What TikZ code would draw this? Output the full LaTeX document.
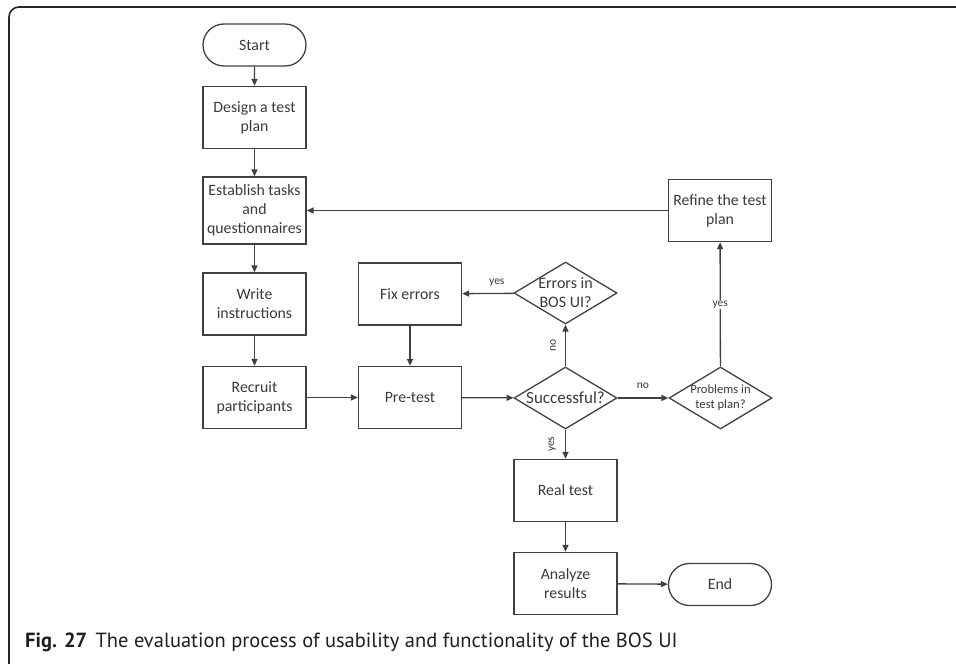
\documentclass[tikz,border=0pt]{standalone}
\usepackage{fontspec}
\setmainfont{Carlito}
\newfontfamily\capfont{PT Sans}
\usetikzlibrary{shapes.geometric,shapes.misc,arrows.meta}

\definecolor{ink}{HTML}{404040}
\definecolor{txt}{HTML}{3A3A3A}

\tikzset{
  flow/.style={draw=ink, line width=1.3pt, text=txt, font=\fontsize{15.8}{19}\selectfont,
    align=center, inner sep=0pt},
  stepbox/.style={flow, rectangle, minimum width=103pt, minimum height=62pt},
  terminal/.style={flow, rounded rectangle, minimum width=103pt, minimum height=42pt},
  decision/.style={flow, diamond, minimum width=103pt, minimum height=62pt},
  dtext/.style={text=txt, align=center, inner sep=0pt},
  conn/.style={draw=ink, line width=1.3pt, -{Triangle[length=7pt,width=6pt]}},
  tag/.style={text=txt, font=\fontsize{11.5}{13}\selectfont, inner sep=1pt},
}

\begin{document}
\begin{tikzpicture}[x=1pt, y=-1pt]
\useasboundingbox (0,0) rectangle (956,664);

% figure frame
\draw[draw=black!85, line width=1.6pt] (9,664) -- (9,17) arc (180:270:10) -- (956,7);

% left column
\node[terminal] (start) at (254.5,45) {Start};
\node[stepbox] (design) at (254.5,117.5) {Design a test\\plan};
\node[stepbox, minimum height=67pt] (tasks) at (254.5,210.5) {Establish tasks\\and\\questionnaires};
\node[stepbox] (write) at (254.5,304) {Write\\instructions};
\node[stepbox] (recruit) at (254.5,397.5) {Recruit\\participants};

% middle column
\node[stepbox] (fix) at (410,294) {Fix errors};
\node[stepbox] (pretest) at (410,397.5) {Pre-test};

% decisions (outline and wording kept separate so long wording may cross the outline)
\node[decision] (success) at (565.5,398) {};
\node[dtext, font=\fontsize{17}{20}\selectfont] (successtxt) at (success.center) {Successful?};
\node[decision] (errors) at (565.5,293) {};
\node[dtext, font=\fontsize{16}{19}\selectfont] (errorstxt) at (errors.center) {Errors in\\BOS UI?};
\node[decision] (problems) at (720.5,398) {};
\node[dtext, font=\fontsize{12.6}{15}\selectfont] (problemstxt) at (problems.center) {Problems in\\test plan?};

% right side
\node[stepbox] (refine) at (720,210.5) {Refine the test\\plan};
\node[stepbox] (real) at (565.5,490.5) {Real test};
\node[stepbox] (analyze) at (565.5,583.5) {Analyze\\results};
\node[terminal] (end) at (720,584.5) {End};

% connectors
\draw[conn] (start) -- (design);
\draw[conn] (design) -- (tasks);
\draw[conn] (tasks) -- (write);
\draw[conn] (write) -- (recruit);
\draw[conn] (recruit) -- (pretest);
\draw[conn] (fix) -- (pretest);
\draw[conn] (pretest) -- (success);
\draw[conn] (success) -- node[tag, rotate=90, anchor=south, yshift=8pt] (nolbl) {no} (errors);
\draw[conn] (errors) -- node[tag, pos=0.33, anchor=south, yshift=5pt] (yeslbl) {yes} (fix);
\draw[conn] (success) -- node[tag, anchor=south, yshift=8pt] (nolbl2) {no} (problems);
\draw[conn] (problems) -- node[tag, fill=white, pos=0.5] (yeslbl2) {yes} (refine);
\draw[conn] (refine) -- (tasks);
\draw[conn] (success) -- node[tag, rotate=90, anchor=south, yshift=8pt] (yeslbl3) {yes} (real);
\draw[conn] (real) -- (analyze);
\draw[conn] (analyze) -- (end);

% caption
\node[anchor=base west, inner sep=0pt, text=black!88, font=\capfont\fontsize{20.5}{24}\selectfont] (caption) at (25,647)
  {\textbf{Fig. 27}\hspace{0.4em}The evaluation process of usability and functionality of the BOS UI};
\end{tikzpicture}
\end{document}
